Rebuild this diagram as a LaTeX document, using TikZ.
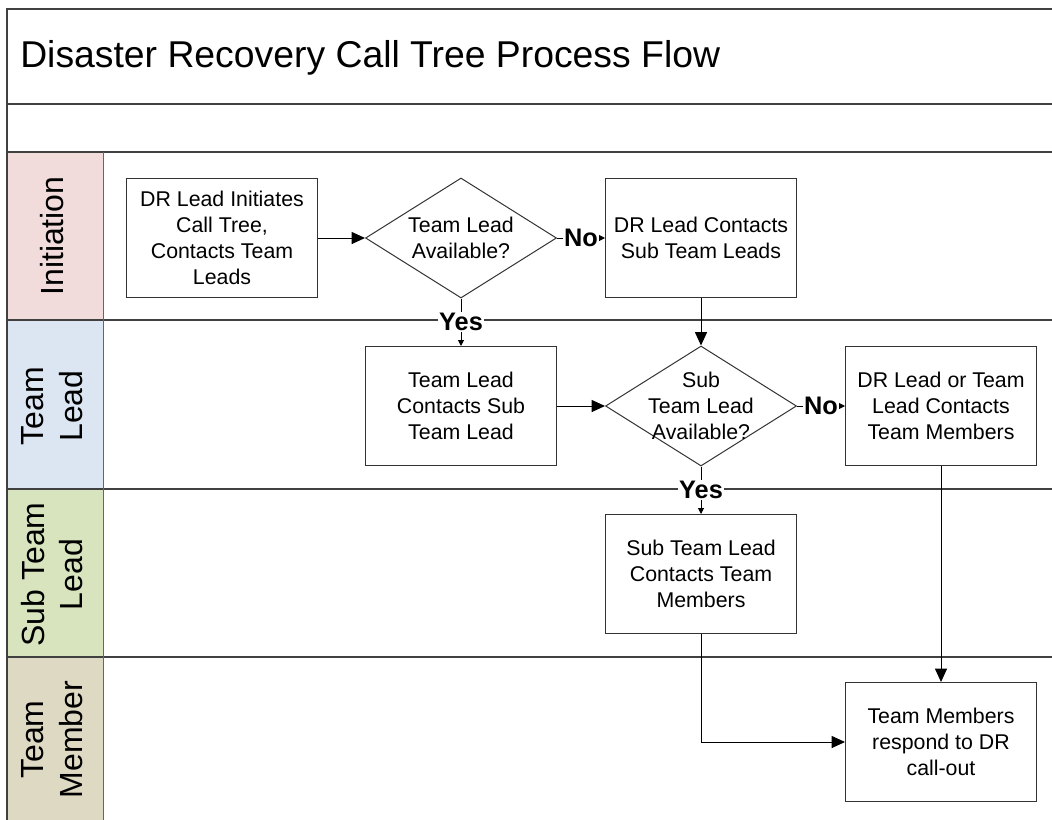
\documentclass[tikz,border=0pt]{standalone}
\usepackage{fontspec}
\setmainfont{Liberation Sans}
\usetikzlibrary{shapes.geometric, arrows.meta}
\definecolor{initfill}{RGB}{242,220,219}
\definecolor{leadfill}{RGB}{220,230,242}
\definecolor{subfill}{RGB}{215,228,189}
\definecolor{memberfill}{RGB}{221,217,195}
\begin{document}
\begin{tikzpicture} [x = 0.75pt, y = -0.75pt,
  lane/.style = {line width = 1.5pt, draw = black!75},
  lanename/.style = {rotate = 90, align = center, font = \fontsize{24}{28.8}\selectfont},
  proc/.style = {draw = black!80, line width = 0.75pt, minimum width = 143.25pt, minimum height = 89.25pt, inner sep = 0pt, align = center, font = \fontsize{16}{19.5}\selectfont},
  dec/.style = {diamond, draw = black!80, line width = 0.75pt, minimum width = 143.25pt, minimum height = 90pt, inner sep = 0pt},
  dectext/.style = {align = center, font = \fontsize{16}{19.5}\selectfont},
  flow/.style = {line width = 0.75pt, -{Triangle[length = 10pt, width = 9pt]}},
  reply/.style = {line width = 0.75pt, -{Triangle[length = 4.5pt, width = 4.5pt]}},
  answer/.style = {pos = .5, fill = white, inner sep = 1pt, font = \fontsize{19}{22}\selectfont\bfseries}]
\useasboundingbox (0,0) rectangle (1052,820);
\fill [initfill] (7,152) rectangle (103,320);
\fill [leadfill] (7,320) rectangle (103,489);
\fill [subfill] (7,489) rectangle (103,657);
\fill [memberfill] (7,657) rectangle (103,820);
\foreach \y in {104,152,320,489,657}
  \draw [lane] (7,\y) -- (1052,\y);
\draw [lane] (1052,9) -- (7,9) -- (7,820);
\draw [line width = 0.75pt, draw = black!60] (103,152) -- (103,820);
\node [anchor = base west, inner sep = 0pt, font = \fontsize{28}{33}\selectfont] (title) at (20,68) {Disaster Recovery Call Tree Process Flow};
\node [lanename] (initname) at (52,236) {Initiation};
\node [lanename] (leadname) at (52,406) {Team\\Lead};
\node [lanename] (subname) at (52,574.5) {Sub Team\\Lead};
\node [lanename] (membername) at (52,739.5) {Team\\Member};
\node [proc] (initiate) at (222,238) {DR Lead Initiates\\Call Tree,\\Contacts Team\\Leads};
\node [dec, label = {[dectext]center:Team Lead\\Available?}] (tlavail) at (461,238) {};
\node [proc] (subcall) at (701,238) {DR Lead Contacts\\Sub Team Leads};
\node [proc] (tlcall) at (461,406) {Team Lead\\Contacts Sub\\Team Lead};
\node [dec, label = {[dectext]center:Sub\\Team Lead\\Available?}] (stlavail) at (701,406) {};
\node [proc] (membercall) at (941,406) {DR Lead or Team\\Lead Contacts\\Team Members};
\node [proc] (stlcall) at (701,574) {Sub Team Lead\\Contacts Team\\Members};
\node [proc] (respond) at (941,742) {Team Members\\respond to DR\\call-out};
\draw [flow] (initiate.east) -- (tlavail.west);
\draw [reply] (tlavail.east) -- (subcall.west) node[answer]{No};
\draw [reply] (tlavail.south) -- (tlcall.north) node[answer]{Yes};
\draw [flow] (subcall.south) -- (stlavail.north);
\draw [flow] (tlcall.east) -- (stlavail.west);
\draw [reply] (stlavail.east) -- (membercall.west) node[answer]{No};
\draw [reply] (stlavail.south) -- (stlcall.north) node[answer]{Yes};
\draw [flow] (stlcall) |- (respond);
\draw [flow] (membercall.south) -- (respond.north);
\end{tikzpicture}
\end{document}
